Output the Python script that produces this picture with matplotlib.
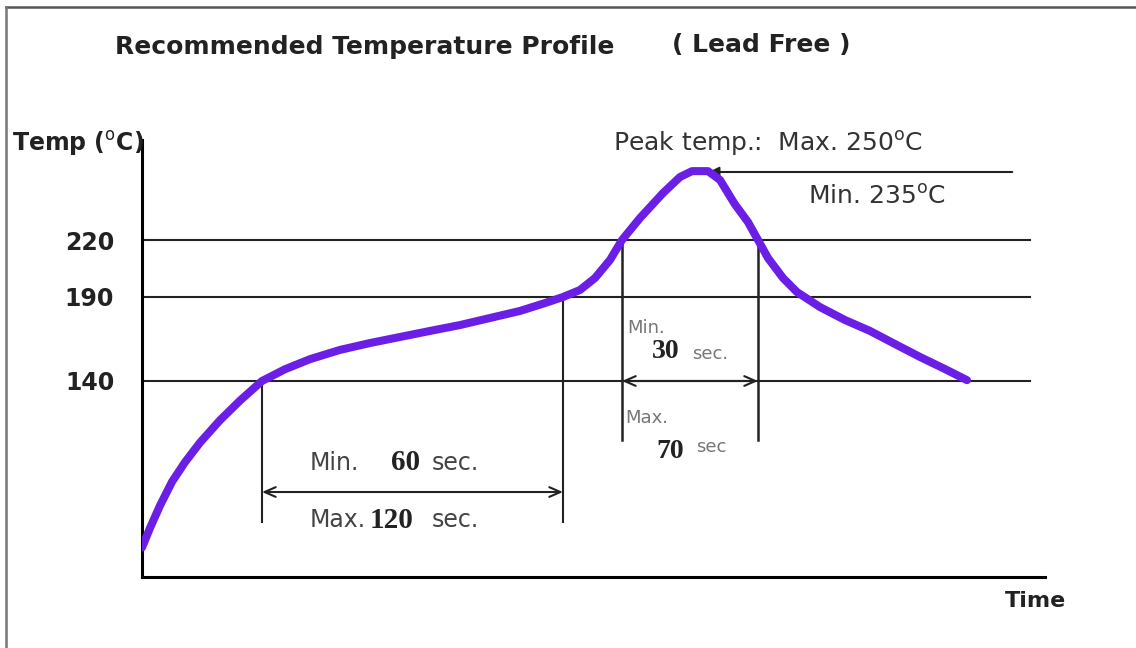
import numpy as np
import matplotlib.pyplot as plt
from matplotlib.lines import Line2D

# reflow profile (time in s, temperature in degC)
time_s = [0, 3.2, 7.2, 12, 17.2, 23.2, 31.2, 39.2, 48, 57.2, 67.2, 79.2, 91.2,
          103.2, 115.2, 127.2, 139.2, 151.2, 161.2, 168.4, 175.2, 181.2, 187.2,
          192, 199.2, 208.4, 215.2, 220, 226.4, 231.2, 237, 242.4, 246.4, 250.4,
          256.4, 262, 271.2, 281.2, 291.2, 301.2, 311.2, 321.2, 330]
temp_c = [21, 35, 51, 68, 82, 96, 112, 126, 140, 147, 153, 158.5, 162.6,
          166.2, 169.8, 173.3, 177.5, 181.7, 186.4, 190, 193.7, 200, 209.5,
          220, 229.7, 240.7, 247.8, 250.4, 250.4, 246.5, 236, 227.9, 220, 210.5,
          200, 192.6, 184, 176.3, 169.8, 162, 154.3, 147.1, 140.5]

levels = [140, 190, 220]
level_labels = ["140", "190", "220"]
peak_temp = 250

soak_start, soak_end = 48, 168.4      # 140 -> 190 degC
reflow_start, reflow_end = 192, 246.4  # above 220 degC

# schematic (not to scale) temperature axis
T_KNOTS = [0, 140, 190, 220, 250, 265]
H_KNOTS = [0, 196, 280, 337, 405, 437]


def fwd(t):
    return np.interp(t, T_KNOTS, H_KNOTS)


def inv(h):
    return np.interp(h, H_KNOTS, T_KNOTS)


W, H = 1136, 648
fig = plt.figure(figsize=(W / 100, H / 100), dpi=100)


def px(x, y):
    return x / W, 1 - y / H


# frame
fig.add_artist(Line2D([6 / W, 1], [1 - 7 / H, 1 - 7 / H], color="#555555", lw=1.8))
fig.add_artist(Line2D([6 / W, 6 / W], [0, 1 - 7 / H], color="#777777", lw=1.8))

ax = fig.add_axes([142 / W, 71 / H, 903 / W, 437 / H])
ax.set_yscale("function", functions=(fwd, inv))
ax.set_xlim(0, 361.2)
ax.set_ylim(0, 265)

for s in ["top", "right"]:
    ax.spines[s].set_visible(False)
for s in ["left", "bottom"]:
    ax.spines[s].set_linewidth(2.2)
    ax.spines[s].set_color("black")

ax.set_xticks([])
ax.set_yticks(levels)
ax.set_yticklabels(level_labels, fontsize=17, fontweight="bold", color="#222222")
ax.tick_params(axis="y", length=0, pad=20)

for lv in levels:
    ax.plot([0, 355.2], [lv, lv], color="#222222", lw=1.5, zorder=2)

# peak line with arrow head at the top of the curve
ax.annotate("", xy=(225.6, peak_temp), xytext=(349.2, peak_temp),
            arrowprops=dict(arrowstyle="-|>,head_length=0.6,head_width=0.3",
                            color="#222222", lw=1.5), zorder=4)

# drop lines
drop_low = 39.3
drop_mid = 97.9
ax.plot([soak_start, soak_start], [140, drop_low], color="#222222", lw=1.5)
ax.plot([soak_end, soak_end], [190, drop_low], color="#222222", lw=1.5)
ax.plot([reflow_start, reflow_start], [220, drop_mid], color="#222222", lw=1.8)
ax.plot([reflow_end, reflow_end], [220, drop_mid], color="#222222", lw=1.8)

# double arrows
ax.annotate("", xy=(soak_start, 60.7), xytext=(soak_end, 60.7),
            arrowprops=dict(arrowstyle="<->,head_length=0.8,head_width=0.35",
                            color="#222222", lw=1.5, shrinkA=0, shrinkB=0))
ax.annotate("", xy=(reflow_start, 140), xytext=(reflow_end, 140),
            arrowprops=dict(arrowstyle="<->,head_length=0.8,head_width=0.35",
                            color="#222222", lw=1.5, shrinkA=0, shrinkB=0))

ax.plot(time_s, temp_c, color="#6b1fe6", lw=5.8, solid_capstyle="round",
        solid_joinstyle="round", zorder=5)

# texts
sans = ["DejaVu Sans"]
serif = ["Liberation Serif", "DejaVu Serif"]

fig.text(*px(115, 47), "Recommended Temperature Profile", family=sans,
         fontweight="bold", fontsize=18, color="#222222", va="center", ha="left")
fig.text(*px(672, 45), "( Lead Free )", family=sans, fontweight="bold",
         fontsize=18, color="#222222", va="center", ha="left")
fig.text(*px(12, 143), r"Temp ($^{\mathrm{o}}$C)", family=sans, fontweight="bold",
         fontsize=17, color="#222222", va="center", ha="left")
fig.text(*px(1005, 601), "Time", family=sans, fontweight="bold",
         fontsize=16, color="#222222", va="center", ha="left")

fig.text(*px(613, 143), r"Peak temp.:  Max. 250$^{\mathrm{o}}$C", family=sans,
         fontsize=18, color="#333333", va="center", ha="left")
fig.text(*px(808, 197), r"Min. 235$^{\mathrm{o}}$C", family=sans,
         fontsize=18, color="#333333", va="center", ha="left")

gray = "#777777"
fig.text(*px(627, 328), "Min.", family=sans, fontsize=13, color=gray, va="center")
fig.text(*px(652, 352), "30", family=serif, fontweight="bold", fontsize=20,
         color="#222222", va="center")
fig.text(*px(692, 354), "sec.", family=sans, fontsize=13, color=gray, va="center")
fig.text(*px(625, 418), "Max.", family=sans, fontsize=13, color=gray, va="center")
fig.text(*px(656, 452), "70", family=serif, fontweight="bold", fontsize=20,
         color="#222222", va="center")
fig.text(*px(696, 447), "sec", family=sans, fontsize=13, color=gray, va="center")

fig.text(*px(310, 463), "Min.", family=sans, fontsize=17, color="#444444", va="center")
fig.text(*px(391, 463), "60", family=serif, fontweight="bold", fontsize=21,
         color="#222222", va="center")
fig.text(*px(432, 463), "sec.", family=sans, fontsize=17, color="#444444", va="center")
fig.text(*px(310, 520), "Max.", family=sans, fontsize=17, color="#444444", va="center")
fig.text(*px(370, 520), "120", family=serif, fontweight="bold", fontsize=21,
         color="#222222", va="center")
fig.text(*px(432, 520), "sec.", family=sans, fontsize=17, color="#444444", va="center")

fig.savefig("out.png", dpi=100)
